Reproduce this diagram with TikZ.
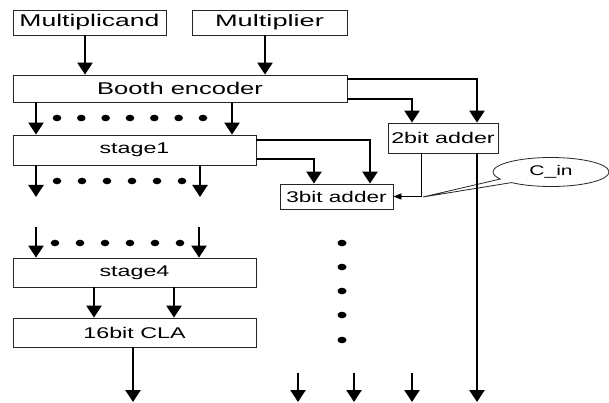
\documentclass[tikz,border=0pt]{standalone}
\usepackage{fontspec}
\newfontfamily\gf[FakeStretch=1.5]{Liberation Sans}
\usetikzlibrary{arrows.meta,shapes.geometric,shapes.callouts}
\begin{document}
\begin{tikzpicture}[x=1pt,y=-1pt,
  box/.style={draw=black!85, line width=0.8pt, inner sep=0pt, font=\gf\fontsize{15.5}{18}\selectfont},
  arr/.style={line width=2.4pt, -{Triangle[width=15pt,length=12pt]}},
  thinarr/.style={line width=0.8pt, -{Triangle[width=6pt,length=8pt]}},
  dotmark/.style={fill=black}
]
\useasboundingbox[fill=white] (0,0) rectangle (609,403);

% boxes
\node[box, minimum width=153pt, minimum height=25pt, font=\gf\fontsize{17}{20}\selectfont] (mcand) at (89.5,22.5) {\scalebox{1.04}[1]{Multiplicand}};
\node[box, minimum width=155pt, minimum height=25pt, font=\gf\fontsize{16.5}{20}\selectfont] (mplier) at (269.5,22.5) {\scalebox{1.1}[1]{Multiplier}};
\node[box, minimum width=334pt, minimum height=27pt, font=\gf\fontsize{17}{20}\selectfont] (booth) at (180,88.5) {Booth encoder};
\node[box, minimum width=243pt, minimum height=30pt] (stage1) at (134.5,150) {stage1};
\node[box, minimum width=243pt, minimum height=29pt] (stage4) at (134.5,272.5) {stage4};
\node[box, minimum width=243pt, minimum height=29pt] (cla) at (134.5,332.5) {16bit CLA};
\node[box, minimum width=110pt, minimum height=30pt] (add2) at (443,138) {2bit adder};
\node[box, minimum width=113pt, minimum height=25pt] (add3) at (336.5,196.5) {\scalebox{0.97}[1]{3bit adder}};
\node[ellipse callout, draw=black!85, line width=0.8pt, inner sep=0pt,
      minimum width=116pt, minimum height=29pt,
      callout absolute pointer={(423,197)}, callout pointer arc=18,
      font=\gf\fontsize{14}{16}\selectfont] (cin) at (551,172) {C\_in};

% free ends
\coordinate (s1l) at (36,197);
\coordinate (s1r) at (200,197);
\coordinate (s4l) at (36,227);
\coordinate (s4r) at (199,227);
\coordinate (claout) at (133,402);
\coordinate (o1) at (298,402);
\coordinate (o2) at (354,402);
\coordinate (o3) at (412,402);
\coordinate (o4) at (477,402);
\coordinate (i1) at (298,373);
\coordinate (i2) at (354,373);
\coordinate (i3) at (412,373);

% inputs to booth
\draw[arr] (85,0 |- mcand.south) -- (85,0 |- booth.north);
\draw[arr] (265,0 |- mplier.south) -- (265,0 |- booth.north);

% booth to stage1
\draw[arr] (36,0 |- booth.south) -- (36,0 |- stage1.north);
\draw[arr] (232,0 |- booth.south) -- (232,0 |- stage1.north);
\foreach \k in {0,...,6} \fill[dotmark] (57+24.33*\k,118) ellipse [x radius=4.3pt, y radius=3.3pt];

% stage1 outputs
\draw[arr] (36,0 |- stage1.south) -- (s1l);
\draw[arr] (200,0 |- stage1.south) -- (s1r);
\foreach \k in {0,...,5} \fill[dotmark] (57+25*\k,181) ellipse [x radius=4.3pt, y radius=3.3pt];

% stage4 inputs
\draw[arr] (s4l) -- (s4l |- stage4.north);
\draw[arr] (s4r) -- (s4r |- stage4.north);
\foreach \k in {0,...,5} \fill[dotmark] (55+25*\k,243) ellipse [x radius=4.3pt, y radius=3.3pt];

% stage4 to CLA
\draw[arr] (94,0 |- stage4.south) -- (94,0 |- cla.north);
\draw[arr] (174,0 |- stage4.south) -- (174,0 |- cla.north);
\draw[arr] (claout |- cla.south) -- (claout);

% booth to 2bit adder
\draw[arr] (booth.east |- 0,79) -| (477,0 |- add2.north);
\draw[arr] (booth.east |- 0,99) -| (412,0 |- add2.north);

% stage1 to 3bit adder
\draw[arr] (stage1.east |- 0,140) -| (370,0 |- add3.north);
\draw[arr] (stage1.east |- 0,159) -| (314,0 |- add3.north);

% carry from 2bit adder into 3bit adder
\draw[thinarr] (421,0 |- add2.south) |- (add3.east);

% long output of 2bit adder
\draw[arr] (o4 |- add2.south) -- (o4);

% vertical dots
\foreach \yy in {243,267,291,315,340} \fill[dotmark] (342,\yy) ellipse [x radius=4.5pt, y radius=3.3pt];

% bottom outputs
\draw[arr] (i1) -- (o1);
\draw[arr] (i2) -- (o2);
\draw[arr] (i3) -- (o3);
\end{tikzpicture}
\end{document}
